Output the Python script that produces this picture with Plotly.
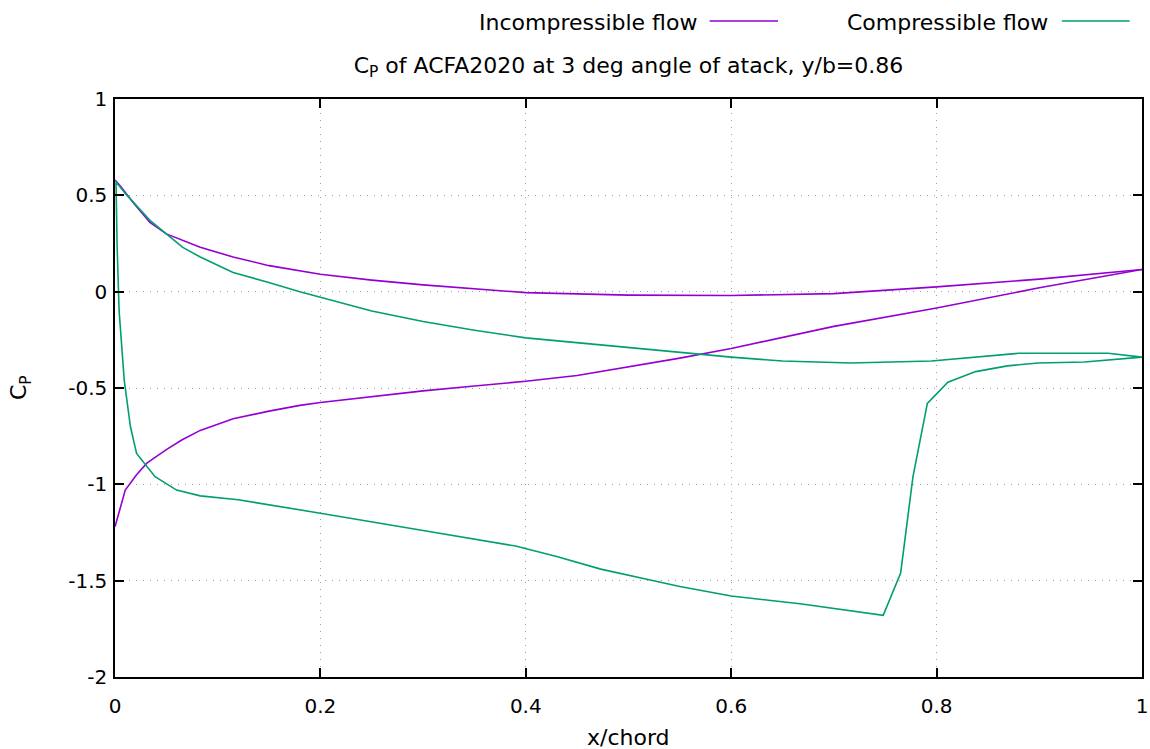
import plotly.graph_objects as go

# Incompressible flow: pressure side (trailing edge -> leading edge)
inc_ps_x = [1.0, 0.9, 0.8, 0.7, 0.6, 0.5, 0.4, 0.3, 0.25, 0.2, 0.15, 0.115, 0.083, 0.05, 0.034, 0.018, 0.005, 0.0]
inc_ps_cp = [0.115, 0.065, 0.025, -0.01, -0.02, -0.018, -0.005, 0.035, 0.06, 0.09, 0.135, 0.18, 0.23, 0.30, 0.36, 0.46, 0.55, 0.58]
# Incompressible flow: suction side (leading edge -> trailing edge)
inc_ss_x = [0.0, 0.005, 0.01, 0.021, 0.031, 0.05, 0.065, 0.083, 0.115, 0.15, 0.18, 0.2, 0.25, 0.3, 0.35, 0.4, 0.45, 0.5, 0.55, 0.6, 0.7, 0.8, 0.9, 1.0]
inc_ss_cp = [-1.22, -1.12, -1.03, -0.95, -0.89, -0.82, -0.77, -0.72, -0.66, -0.62, -0.59, -0.575, -0.545, -0.515, -0.49, -0.465, -0.435, -0.39, -0.345, -0.295, -0.18, -0.085, 0.02, 0.115]

# Compressible flow: pressure side (trailing edge -> leading edge)
com_ps_x = [1.0, 0.967, 0.88, 0.795, 0.716, 0.65, 0.6, 0.5, 0.4, 0.35, 0.3, 0.25, 0.2, 0.18, 0.148, 0.115, 0.083, 0.066, 0.05, 0.034, 0.01, 0.001]
com_ps_cp = [-0.34, -0.32, -0.32, -0.36, -0.37, -0.36, -0.34, -0.29, -0.24, -0.2, -0.155, -0.1, -0.03, 0.0, 0.05, 0.10, 0.18, 0.23, 0.30, 0.37, 0.51, 0.57]
# Compressible flow: suction side (leading edge -> trailing edge)
com_ss_x = [0.002, 0.004, 0.009, 0.015, 0.021, 0.039, 0.06, 0.083, 0.12, 0.18, 0.2, 0.3, 0.39, 0.43, 0.473, 0.52, 0.55, 0.6, 0.667, 0.748, 0.765, 0.777, 0.791, 0.811, 0.838, 0.869, 0.899, 0.944, 1.0]
com_ss_cp = [0.25, -0.1, -0.46, -0.7, -0.84, -0.96, -1.03, -1.06, -1.08, -1.13, -1.15, -1.24, -1.32, -1.375, -1.44, -1.495, -1.53, -1.58, -1.62, -1.68, -1.46, -0.96, -0.58, -0.47, -0.415, -0.385, -0.37, -0.365, -0.34]

x_ticks = [0, 0.2, 0.4, 0.6, 0.8, 1]
x_tick_labels = ["0", "0.2", "0.4", "0.6", "0.8", "1"]
y_ticks = [1, 0.5, 0, -0.5, -1, -1.5, -2]
y_tick_labels = ["1", "0.5", "0", "-0.5", "-1", "-1.5", "-2"]

PURPLE = "#9400d3"
GREEN = "#009e73"
FONT = "DejaVu Sans"

fig = go.Figure()
fig.add_trace(go.Scatter(x=inc_ps_x + [None] + inc_ss_x, y=inc_ps_cp + [None] + inc_ss_cp, mode="lines",
                         line=dict(color=PURPLE, width=1.6), name="Incompressible flow",
                         connectgaps=False, showlegend=False))
fig.add_trace(go.Scatter(x=com_ps_x + com_ss_x, y=com_ps_cp + com_ss_cp, mode="lines",
                         line=dict(color=GREEN, width=1.6), name="Compressible flow",
                         showlegend=False))

axis_common = dict(
    showline=True, linecolor="black", linewidth=1.5, mirror="ticks",
    ticks="inside", ticklen=9, tickwidth=1.5, tickcolor="black",
    showgrid=True, gridcolor="#a0a0a0", gridwidth=1, griddash="1px,6px",
    zeroline=False, automargin=False,
    tickfont=dict(family=FONT, size=20, color="black"),
)
fig.update_xaxes(range=[0, 1], tickvals=x_ticks, ticktext=x_tick_labels, ticklabelstandoff=10,
                 **axis_common)
fig.update_yaxes(range=[-2, 1], tickvals=y_ticks, ticktext=y_tick_labels, ticklabelstandoff=2,
                 **axis_common)

# axis titles
fig.add_annotation(x=0.5, y=-0.105, xref="paper", yref="paper", text="x/chord", showarrow=False,
                   xanchor="center", yanchor="middle", font=dict(family=FONT, size=22, color="black"))
fig.add_annotation(x=-0.0925, y=0.5, xref="paper", yref="paper", text="C<sub>P</sub>", showarrow=False,
                   textangle=-90, xanchor="center", yanchor="middle",
                   font=dict(family=FONT, size=22, color="black"))

# legend (gnuplot style: text then line sample)
legend_items = [("Incompressible flow", PURPLE, 0.5686, 0.579, 0.6456),
                ("Compressible flow", GREEN, 0.910, 0.922, 0.988)]
for text, col, tx, l0, l1 in legend_items:
    fig.add_annotation(x=tx, y=1.132, xref="paper", yref="paper", text=text, showarrow=False,
                       xanchor="right", yanchor="middle", font=dict(family=FONT, size=22, color="black"))
    fig.add_shape(type="line", xref="paper", yref="paper", x0=l0, x1=l1, y0=1.135, y1=1.135,
                  line=dict(color=col, width=1.6))

fig.update_layout(
    width=1150, height=749,
    margin=dict(l=115, r=8, t=99, b=72),
    plot_bgcolor="white", paper_bgcolor="white",
    title=dict(text="C<sub>P</sub> of ACFA2020 at 3 deg angle of atack, y/b=0.86",
               x=0.5, xref="paper", y=1 - 65 / 749, yanchor="middle",
               font=dict(family=FONT, size=22, color="black")),
    font=dict(family=FONT, color="black"),
)

fig.write_html("out.html")
